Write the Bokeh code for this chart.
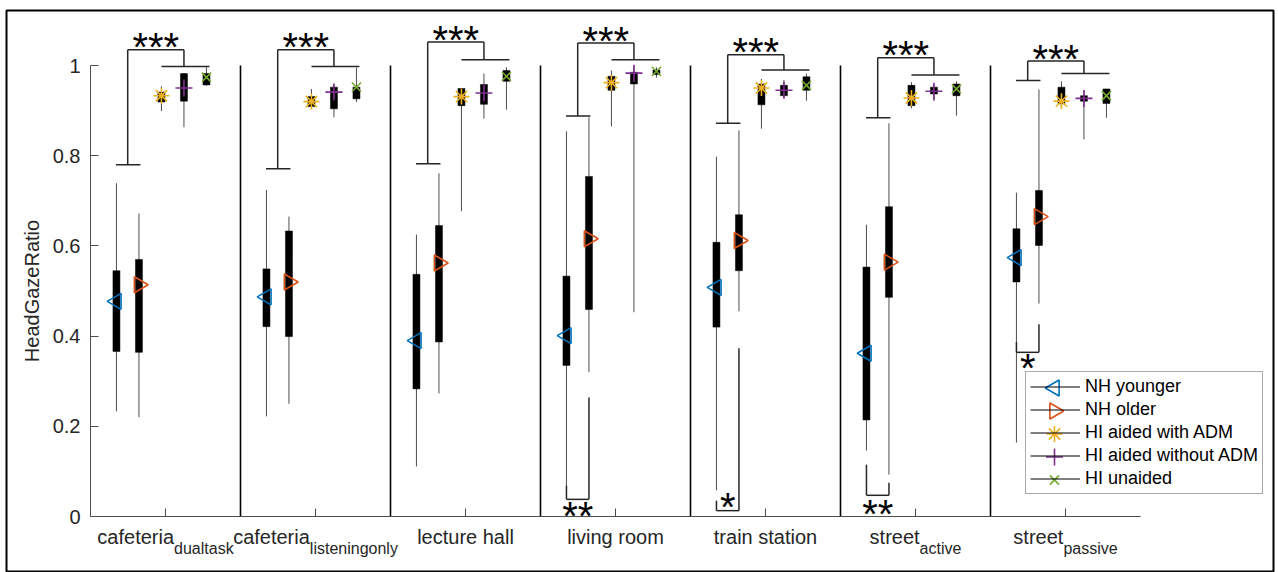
import math
from bokeh.plotting import figure
from bokeh.models import Range1d, FixedTicker, NumeralTickFormatter, Legend, LegendItem
from bokeh.core.properties import value
from bokeh.embed import file_html
from bokeh.resources import INLINE

# ---------------- data ----------------
categories = ["cafeteria", "cafeteria", "lecture hall", "living room",
              "train station", "street", "street"]
subscripts = ["dualtask", "listeningonly", "", "", "", "active", "passive"]
series_names = ["NH younger", "NH older", "HI aided with ADM",
                "HI aided without ADM", "HI unaided"]
series_colors = ["#0072BD", "#D95319", "#EDB120", "#7E2F8E", "#77AC30"]
series_markers = ["triangle", "triangle", "asterisk", "cross", "x"]
y_ticks = [0, 0.2, 0.4, 0.6, 0.8, 1.0]

# NH younger
nhy_low = [0.233, 0.222, 0.111, 0.069, 0.058, 0.146, 0.164]
nhy_q1 = [0.366, 0.421, 0.283, 0.335, 0.420, 0.214, 0.520]
nhy_q3 = [0.545, 0.549, 0.537, 0.533, 0.608, 0.553, 0.638]
nhy_high = [0.739, 0.724, 0.625, 0.854, 0.798, 0.647, 0.718]
nhy_med = [0.477, 0.487, 0.390, 0.401, 0.508, 0.362, 0.574]
# NH older
nho_low = [0.220, 0.250, 0.273, 0.320, 0.455, 0.093, 0.472]
nho_q1 = [0.364, 0.399, 0.387, 0.459, 0.545, 0.486, 0.601]
nho_q3 = [0.570, 0.633, 0.645, 0.754, 0.669, 0.687, 0.723]
nho_high = [0.672, 0.665, 0.761, 0.885, 0.856, 0.872, 0.947]
nho_med = [0.514, 0.520, 0.562, 0.616, 0.612, 0.564, 0.665]
# HI aided with ADM
hia_low = [0.899, 0.905, 0.677, 0.865, 0.860, 0.905, 0.905]
hia_q1 = [0.919, 0.909, 0.911, 0.945, 0.913, 0.911, 0.915]
hia_q3 = [0.941, 0.931, 0.949, 0.976, 0.959, 0.956, 0.952]
hia_high = [0.954, 0.948, 0.950, 0.989, 0.970, 0.963, 0.965]
hia_med = [0.933, 0.920, 0.931, 0.962, 0.950, 0.928, 0.921]
# HI aided without ADM
hin_low = [0.863, 0.885, 0.882, 0.453, 0.928, 0.921, 0.836]
hin_q1 = [0.921, 0.904, 0.914, 0.959, 0.933, 0.937, 0.921]
hin_q3 = [0.982, 0.952, 0.958, 0.985, 0.956, 0.952, 0.933]
hin_high = [0.983, 0.958, 0.982, 1.000, 0.968, 0.958, 0.945]
hin_med = [0.950, 0.941, 0.939, 0.983, 0.945, 0.943, 0.927]
# HI unaided
hiu_low = [0.955, 0.919, 0.902, 0.973, 0.922, 0.889, 0.884]
hiu_q1 = [0.957, 0.926, 0.965, 0.980, 0.945, 0.933, 0.916]
hiu_q3 = [0.982, 0.952, 0.989, 0.990, 0.975, 0.959, 0.948]
hiu_high = [0.996, 0.995, 0.996, 0.996, 0.982, 0.965, 0.948]
hiu_med = [0.974, 0.952, 0.976, 0.987, 0.956, 0.948, 0.933]

# significance brackets (top: NH vs HI)
top_level = [1.035, 1.035, 1.052, 1.050, 1.024, 1.017, 1.010]
nh_level = [0.780, 0.771, 0.782, 0.888, 0.872, 0.884, 0.967]
hi_level = [0.998, 0.998, 1.013, 1.013, 0.990, 0.979, 0.982]
top_stars = ["***"] * 7
# lower brackets (NH younger vs NH older)
low_group = [3, 4, 5, 6]
low_bar = [0.038, 0.013, 0.047, 0.364]
low_left = [0.069, 0.035, 0.115, 0.387]
low_right = [0.264, 0.373, 0.075, 0.426]
low_stars = ["**", "*", "**", "*"]
low_star_y = [0.016, 0.035, 0.021, 0.344]

series = [
    (nhy_low, nhy_q1, nhy_q3, nhy_high, nhy_med),
    (nho_low, nho_q1, nho_q3, nho_high, nho_med),
    (hia_low, hia_q1, hia_q3, hia_high, hia_med),
    (hin_low, hin_q1, hin_q3, hin_high, hin_med),
    (hiu_low, hiu_q1, hiu_q3, hiu_high, hiu_med),
]

# ---------------- layout ----------------
W, H = 1278, 572
FL, FT, FR, FB = 6, 10, 1273, 572        # frame edges (px)
X0PX, Y0PX = 90, 516                     # pixel of x=0.5 and y=0
PXX, PXY = 150.0, 451.0                  # px per data unit
FONT = "Liberation Sans"
INK = "#262626"
BASE_CORR = 0.42                         # svg baseline correction (em)

x_range = Range1d(0.5 - (X0PX - FL) / PXX, 0.5 + (FR - X0PX) / PXX)
y_range = Range1d(-(FB - Y0PX) / PXY, (Y0PX - FT) / PXY)

p = figure(width=W, height=H, x_range=x_range, y_range=y_range,
           output_backend="svg", toolbar_location=None, title=None,
           min_border_left=FL, min_border_top=FT, min_border_right=W - FR,
           min_border_bottom=H - FB)
p.outline_line_color = "black"
p.outline_line_width = 2
p.xgrid.visible = False
p.ygrid.visible = False
p.background_fill_color = "white"
p.border_fill_color = "white"

ng = len(categories)
centers = list(range(1, ng + 1))

for ax in (p.xaxis[0], p.yaxis[0]):
    ax.axis_line_color = "#4d4d4d"
    ax.major_tick_line_color = "#4d4d4d"
    ax.major_tick_in = 8
    ax.major_tick_out = 0
    ax.minor_tick_line_color = None
    ax.major_label_text_font = FONT
    ax.major_label_text_font_size = "20px"
    ax.major_label_text_color = INK

p.xaxis.fixed_location = 0
p.xaxis.bounds = (0.5, ng + 0.5)
p.xaxis.ticker = FixedTicker(ticks=centers)
p.xaxis.major_label_overrides = {c: "" for c in centers}

p.yaxis.fixed_location = 0.5
p.yaxis.bounds = (0, 1)
p.yaxis.ticker = FixedTicker(ticks=y_ticks)
p.yaxis.formatter = NumeralTickFormatter(format="0.[0]")
p.yaxis.major_label_standoff = 10
p.yaxis.axis_label = "HeadGazeRatio"
p.yaxis.axis_label_text_font = FONT
p.yaxis.axis_label_text_font_size = "20px"
p.yaxis.axis_label_text_font_style = "normal"
p.yaxis.axis_label_text_color = INK
p.yaxis.axis_label_standoff = 7

# group separators
seps = [c + 0.5 for c in centers[:-1]]
p.segment(x0=seps, y0=[0] * len(seps), x1=seps, y1=[1.0] * len(seps),
          line_color="black", line_width=1.6)

# box positions within a group
offsets = [-0.027 + 0.15 * (k - 2) for k in range(5)]
BOX_W = 7 / PXX

def pos(k):
    return [c + offsets[k] for c in centers]

for k, (lo, q1, q3, hi, med) in enumerate(series):
    xs = pos(k)
    p.segment(x0=xs, y0=lo, x1=xs, y1=hi, line_color="#4d4d4d", line_width=1)
    p.vbar(x=xs, width=BOX_W, bottom=q1, top=q3, fill_color="black",
           line_color="black", line_width=0.5)

MSIZE = [16, 16, 16, 17, 13]
MANGLE = [math.pi / 2, -math.pi / 2, 0, 0, 0]

def draw_markers(xs, ys, k):
    kw = dict(marker=series_markers[k], size=MSIZE[k], angle=MANGLE[k],
              line_color=series_colors[k], line_width=1.6)
    if series_markers[k] == "triangle":
        kw["fill_color"] = None
    p.scatter(x=xs, y=ys, **kw)

for k, (lo, q1, q3, hi, med) in enumerate(series):
    draw_markers(pos(k), med, k)

# significance brackets
bx0, by0, bx1, by1 = [], [], [], []
def seg(a, b, c, d):
    bx0.append(a); by0.append(b); bx1.append(c); by1.append(d)

py, po, pa, pp, pu = pos(0), pos(1), pos(2), pos(3), pos(4)
star_x = []
for i in range(ng):
    lx = (py[i] + po[i]) / 2
    rx = pp[i]
    seg(lx, nh_level[i], lx, top_level[i])
    seg(lx, top_level[i], rx, top_level[i])
    seg(rx, hi_level[i], rx, top_level[i])
    seg(py[i] - 0.003, nh_level[i], po[i] + 0.01, nh_level[i])
    seg(pa[i], hi_level[i], pu[i] + 0.02, hi_level[i])
    star_x.append((lx + rx) / 2)

low_x = []
for j, g in enumerate(low_group):
    seg(py[g], low_bar[j], po[g], low_bar[j])
    seg(py[g], low_bar[j], py[g], low_left[j])
    seg(po[g], low_bar[j], po[g], low_right[j])
    low_x.append((py[g] + po[g]) / 2)

p.segment(x0=bx0, y0=by0, x1=bx1, y1=by1, line_color=INK, line_width=1.5)

STAR_F = 40
# anchor so that the asterisk glyph centre lands on the wanted height
star_shift = (0.585 - BASE_CORR) * STAR_F / PXY
p.text(x=star_x, y=[t + 9 / PXY - star_shift for t in top_level], text=top_stars,
       text_font=value(FONT), text_font_size=f"{STAR_F}px", text_color="black",
       text_align="center", text_baseline="alphabetic")
p.text(x=low_x, y=[v - star_shift for v in low_star_y], text=low_stars,
       text_font=value(FONT), text_font_size=f"{STAR_F}px", text_color="black",
       text_align="center", text_baseline="alphabetic")

# category labels (with subscripts)
ARIAL = dict(zip("abcdefghijklmnopqrstuvwxyz ",
                 [.556, .556, .5, .556, .556, .278, .556, .556, .222, .222, .5,
                  .222, .833, .556, .556, .556, .556, .333, .5, .278, .556, .5,
                  .722, .5, .5, .5, .278]))
def tw(s, f):
    return sum(ARIAL.get(ch, .556) for ch in s) * f

MAIN_F, SUB_F = 20, 16
main_x, main_off, main_align = [], [], []
sub_x, sub_txt, sub_off = [], [], []
for i in range(ng):
    if subscripts[i]:
        wm, ws = tw(categories[i], MAIN_F), tw(subscripts[i], SUB_F)
        split = (wm - ws) / 2
        main_x.append(centers[i]); main_off.append(split); main_align.append("right")
        sub_x.append(centers[i]); sub_txt.append(subscripts[i]); sub_off.append(split)
    else:
        main_x.append(centers[i]); main_off.append(0); main_align.append("center")

main_base = -(545 - Y0PX - BASE_CORR * MAIN_F) / PXY
sub_base = -(555 - Y0PX - BASE_CORR * SUB_F) / PXY
p.text(x=main_x, y=[main_base] * ng, text=categories, x_offset=main_off,
       text_align=main_align, text_baseline="alphabetic", text_font=value(FONT),
       text_font_size=f"{MAIN_F}px", text_color=INK)
p.text(x=sub_x, y=[sub_base] * len(sub_x), text=sub_txt, x_offset=sub_off,
       text_align="left", text_baseline="alphabetic", text_font=value(FONT),
       text_font_size=f"{SUB_F}px", text_color=INK)

# legend
LEG_L, LEG_B = 1025, 494
PAD, GW, GH, SP = 4, 50, 21, 2
off = x_range.start - 5
line_dummy = p.line(x=[off, off - 1], y=[-5, -5], line_color="black", line_width=1)
legend = Legend(items=[LegendItem(label=n, renderers=[line_dummy]) for n in series_names],
                location=(LEG_L - FL, FB - LEG_B), orientation="vertical",
                padding=PAD, spacing=SP, margin=0, glyph_width=GW, glyph_height=GH,
                label_height=GH, label_standoff=5,
                label_text_font=FONT, label_text_font_size="18px",
                label_text_color="black", border_line_color="#555555",
                border_line_width=1, background_fill_alpha=0)
p.add_layout(legend)

leg_h = 2 * PAD + 5 * GH + 4 * SP
leg_top = LEG_B - leg_h
gx = 0.5 + (LEG_L + PAD + GW / 2 - X0PX) / PXX
for k in range(5):
    cy = leg_top + PAD + GH / 2 + k * (GH + SP)
    draw_markers([gx], [(Y0PX - cy) / PXY], k)

open("out.html", "w").write(file_html(p, INLINE))
